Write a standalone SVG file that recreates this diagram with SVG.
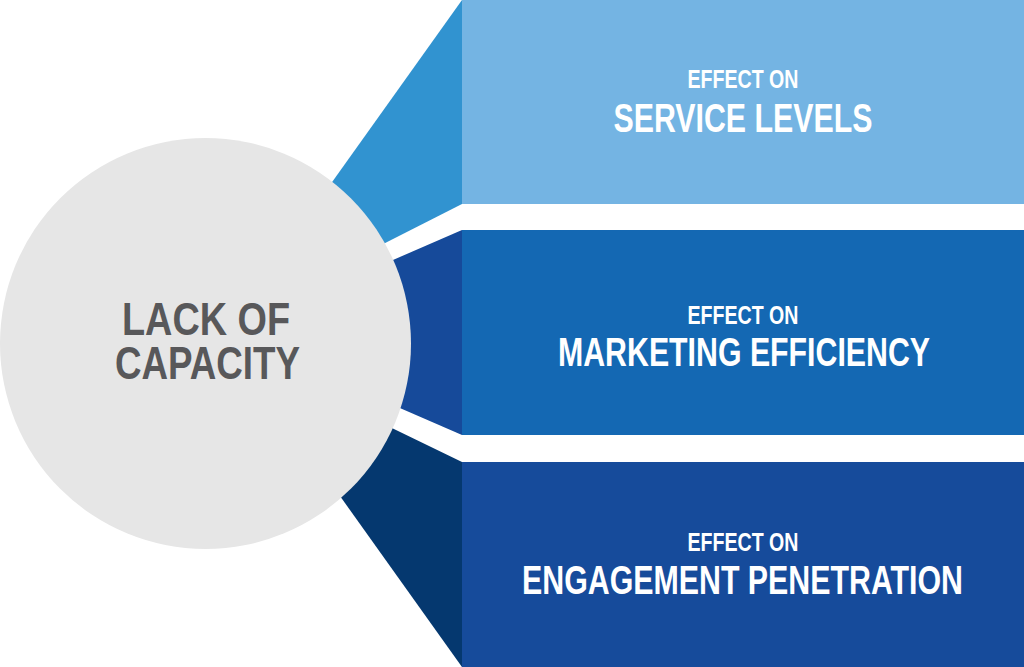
<svg xmlns="http://www.w3.org/2000/svg" width="1024" height="667" viewBox="0 0 1024 667">
  <style>
    .t { font-family: "Liberation Sans", Arial, sans-serif; font-weight: bold; text-anchor: middle; fill: #ffffff; }
    .small { font-size: 25px; }
    .big { font-size: 40.5px; }
    .center { font-size: 46px; fill: #58585A; }
  </style>
  <rect width="1024" height="667" fill="#ffffff"/>
  <g id="connectors">
    <polygon points="462,0 300,227 330,271 462,204" fill="#3193D0"/>
    <polygon points="462,230 340,283 340,382 462,435" fill="#164A9A"/>
    <polygon points="462,462 330,398 310,454 462,667" fill="#05386F"/>
  </g>
  <g id="node-service">
    <rect x="462" y="0" width="562" height="204" fill="#74B4E3"/>
    <text class="t small" x="743" y="88" textLength="111" lengthAdjust="spacingAndGlyphs">EFFECT ON</text>
    <text class="t big" x="743" y="132" textLength="259" lengthAdjust="spacingAndGlyphs">SERVICE LEVELS</text>
  </g>
  <g id="node-marketing">
    <rect x="462" y="230" width="562" height="205" fill="#1468B3"/>
    <text class="t small" x="743" y="324" textLength="111" lengthAdjust="spacingAndGlyphs">EFFECT ON</text>
    <text class="t big" x="744" y="366" textLength="372" lengthAdjust="spacingAndGlyphs">MARKETING EFFICIENCY</text>
  </g>
  <g id="node-engagement">
    <rect x="462" y="462" width="562" height="205" fill="#164B9B"/>
    <text class="t small" x="743" y="551" textLength="111" lengthAdjust="spacingAndGlyphs">EFFECT ON</text>
    <text class="t big" x="742.5" y="594" textLength="441" lengthAdjust="spacingAndGlyphs">ENGAGEMENT PENETRATION</text>
  </g>
  <g id="node-capacity">
    <circle cx="205.5" cy="343.5" r="205.5" fill="#E6E6E6"/>
    <text class="t center" x="206" y="335" textLength="168" lengthAdjust="spacingAndGlyphs">LACK OF</text>
    <text class="t center" x="207.5" y="379" textLength="185" lengthAdjust="spacingAndGlyphs">CAPACITY</text>
  </g>
</svg>
